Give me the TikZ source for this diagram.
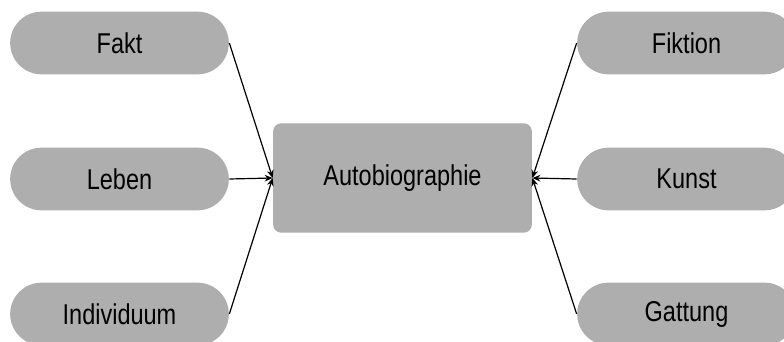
\documentclass[tikz,border=0pt]{standalone}
\usepackage{fontspec}
\setmainfont{Liberation Sans}[FakeStretch=0.82]
\usetikzlibrary{shapes.misc,arrows.meta}

\definecolor{boxgray}{RGB}{174,174,174}

\tikzset{every picture/.style={line width=0.75pt}}
\tikzset{
  pill/.style={rounded rectangle, fill=boxgray, minimum width=164pt, minimum height=47pt, inner sep=0pt, font=\fontsize{21.5}{25}\selectfont},
  centerbox/.style={rectangle, rounded corners=6pt, fill=boxgray, minimum width=194pt, minimum height=82pt, inner sep=0pt, font=\fontsize{21.5}{25}\selectfont},
  link/.style={draw=black, line width=0.9pt, -{Stealth[length=6pt,width=5pt]}}
}

\begin{document}
\begin{tikzpicture}[x=0.75pt,y=0.75pt,yscale=-1,xscale=1]
    \path[use as bounding box, clip] (0,0) rectangle (784,342);

    %centre
    \node[centerbox] (auto) at (402.5,178) {Autobiographie};

    %left side
    \node[pill] (fakt) at (119.5,43) {Fakt};
    \node[pill] (leben) at (119.5,179) {Leben};
    \node[pill] (indiv) at (119.5,314) {Individuum};

    %right side
    \node[pill] (fiktion) at (686.5,43) {Fiktion};
    \node[pill] (kunst) at (686.5,179) {Kunst};
    \node[pill] (gattung) at (686.5,314) {Gattung};

    %links
    \draw[link] (fakt.east) -- (auto.west);
    \draw[link] (leben.east) -- (auto.west);
    \draw[link] (indiv.east) -- (auto.west);
    \draw[link] (fiktion.west) -- (auto.east);
    \draw[link] (kunst.west) -- (auto.east);
    \draw[link] (gattung.west) -- (auto.east);

\end{tikzpicture}
\end{document}
